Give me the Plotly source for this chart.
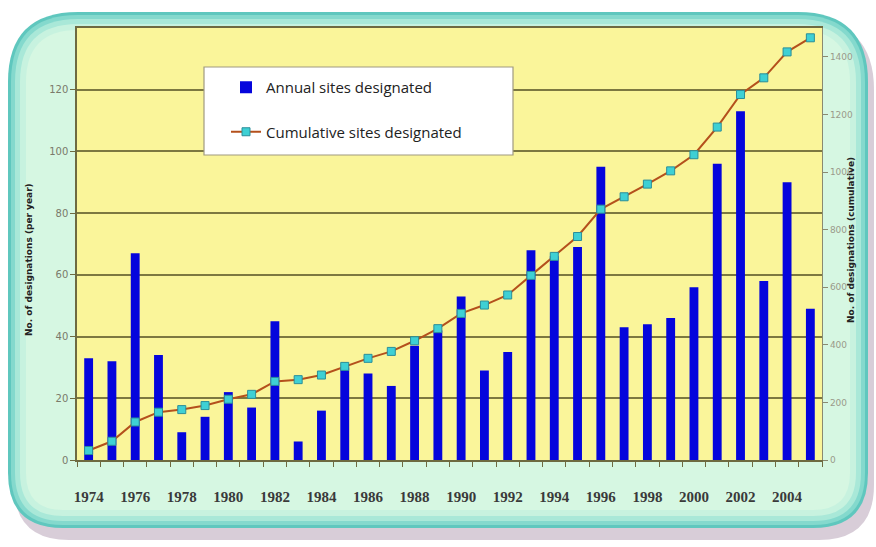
import plotly.graph_objects as go

years = list(range(1974, 2006))
annual = [33, 32, 67, 34, 9, 14, 22, 17, 45, 6, 16, 30, 28, 24, 37, 42,
          53, 29, 35, 68, 66, 69, 95, 43, 44, 46, 56, 96, 113, 58, 90, 49]
cumulative = [33, 65, 132, 166, 175, 189, 211, 228, 273, 279, 295, 325, 353, 377, 414, 456,
              509, 538, 573, 641, 707, 776, 871, 914, 958, 1004, 1060, 1156, 1269, 1327, 1417, 1466]
xtick_years = list(range(1974, 2005, 2))
left_ticks = [0, 20, 40, 60, 80, 100, 120]
right_ticks = [0, 200, 400, 600, 800, 1000, 1200, 1400]

W, H = 876, 547
ML, MR, MT, MB = 77, 54, 28, 87
PW, PH = W - ML - MR, H - MT - MB


def xp(px):
    return (px - ML) / PW


def yp(py):
    return (H - MB - py) / PH


def rounded(x0, y0, x1, y1, r_tl, r_tr, r_br, r_bl):
    pts = [
        f"M {xp(x0 + r_tl)},{yp(y0)}",
        f"L {xp(x1 - r_tr)},{yp(y0)}",
        f"Q {xp(x1)},{yp(y0)} {xp(x1)},{yp(y0 + r_tr)}",
        f"L {xp(x1)},{yp(y1 - r_br)}",
        f"Q {xp(x1)},{yp(y1)} {xp(x1 - r_br)},{yp(y1)}",
        f"L {xp(x0 + r_bl)},{yp(y1)}",
        f"Q {xp(x0)},{yp(y1)} {xp(x0)},{yp(y1 - r_bl)}",
        f"L {xp(x0)},{yp(y0 + r_tl)}",
        f"Q {xp(x0)},{yp(y0)} {xp(x0 + r_tl)},{yp(y0)}",
        "Z",
    ]
    return " ".join(pts)


shapes = []
# shadow
shapes.append(dict(type="path", xref="paper", yref="paper", layer="below",
                   path=rounded(14, 20, 874, 540, 70, 70, 55, 55),
                   fillcolor="#D8CDD8", line=dict(width=0)))
# outer teal panel layers (pseudo gradient)
for inset, col in [(0, "#5FC7BE"), (3, "#84D9CD"), (7, "#A9E8D8"), (12, "#C7F2DF"), (18, "#D6F7E2")]:
    shapes.append(dict(type="path", xref="paper", yref="paper", layer="below",
                       path=rounded(8 + inset, 12 + inset, 868 - inset, 528 - inset,
                                    max(70 - inset, 5), max(70 - inset, 5),
                                    max(55 - inset, 5), max(55 - inset, 5)),
                       fillcolor=col, line=dict(width=0)))
# yellow plot area
shapes.append(dict(type="rect", xref="paper", yref="paper", layer="below",
                   x0=0, x1=1, y0=0, y1=1, fillcolor="#FAF59A", line=dict(width=0)))
# legend box
shapes.append(dict(type="rect", xref="paper", yref="paper", layer="above",
                   x0=xp(204), x1=xp(513), y0=yp(155), y1=yp(67),
                   fillcolor="#FFFFFF", line=dict(color="#A09A80", width=1.2)))

fig = go.Figure()
fig.add_trace(go.Bar(
    x=years, y=annual, name="Annual sites designated",
    marker=dict(color="#0505DC", line=dict(width=0)),
    width=0.38, yaxis="y", legendgroup="a",
))
fig.add_trace(go.Scatter(
    x=years, y=cumulative, name="Cumulative sites designated",
    mode="lines+markers",
    line=dict(color="#B4501C", width=2),
    marker=dict(symbol="square", size=8, color="#3ED0D4",
                line=dict(color="#2A8E9A", width=1)),
    yaxis="y2", legendgroup="b",
))

tick_font = dict(family="DejaVu Sans", size=10, color="#7A7A6A")

fig.update_layout(
    width=W, height=H,
    margin=dict(l=ML, r=MR, t=MT, b=MB, pad=0),
    paper_bgcolor="#FFFFFF",
    plot_bgcolor="rgba(0,0,0,0)",
    shapes=shapes,
    showlegend=True,
    legend=dict(
        x=xp(226), y=yp(71), xanchor="left", yanchor="top",
        bgcolor="rgba(0,0,0,0)", borderwidth=0,
        font=dict(family="Open Sans", size=15, color="#222222"),
        traceorder="grouped", tracegroupgap=22,
        itemwidth=30,
    ),
    xaxis=dict(
        range=[1973.5, 2005.5],
        tickmode="array", tickvals=xtick_years,
        ticktext=[f"<b>{y}</b>" for y in xtick_years],
        ticks="", ticklabelstandoff=22,
        tickfont=dict(family="Liberation Serif", size=15, color="#3A3A3A"),
        showgrid=False, zeroline=False,
        showline=True, linecolor="#6E6A40", linewidth=1.5, mirror=True,
        minor=dict(tickmode="linear", tick0=1973.5, dtick=1, ticks="outside",
                   ticklen=5, tickcolor="#6E6A40", tickwidth=1, showgrid=False),
    ),
    yaxis=dict(
        range=[0, 140], tickmode="array", tickvals=left_ticks,
        ticks="outside", ticklen=5, tickcolor="#6E6A40",
        tickfont=tick_font,
        showgrid=True, gridcolor="#7C7840", gridwidth=1.5,
        zeroline=False, showline=True, linecolor="#6E6A40", linewidth=1.5,
    ),
    yaxis2=dict(
        range=[0, 1500], overlaying="y", side="right",
        tickmode="array", tickvals=right_ticks,
        ticks="outside", ticklen=5, tickcolor="#8A8A70",
        tickfont=dict(family="DejaVu Sans", size=9, color="#9A9A8A"),
        showgrid=False, zeroline=False,
        showline=True, linecolor="#8A8A70", linewidth=1.2,
    ),
    annotations=[
        dict(text="<b>No. of designations (per year)</b>", xref="paper", yref="paper",
             x=xp(22), y=yp(260), textangle=-90, showarrow=False,
             font=dict(family="DejaVu Sans", size=9, color="#222222")),
        dict(text="<b>No. of designations (cumulative)</b>", xref="paper", yref="paper",
             x=xp(858), y=yp(240), textangle=-90, showarrow=False,
             font=dict(family="DejaVu Sans", size=9, color="#222222")),
    ],
)

fig.write_html("out.html")
